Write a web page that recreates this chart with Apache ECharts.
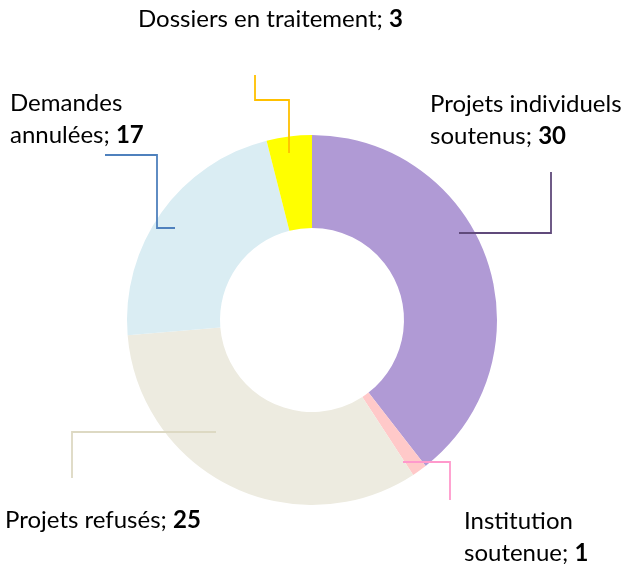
<!DOCTYPE html>
<html>
<head>
<meta charset="utf-8">
<script src="https://cdn.jsdelivr.net/npm/echarts@6/dist/echarts.min.js"></script>
<style>
  html, body { margin: 0; padding: 0; background: #fff; }
  #chart { width: 631px; height: 564px; }
</style>
</head>
<body>
<div id="chart"></div>
<script>
// data, clockwise from the top
var categories = ['Projets individuels\nsoutenus', 'Institution\nsoutenue', 'Projets refusés', 'Demandes\nannulées', 'Dossiers en traitement'];
var values = [30, 1, 25, 17, 3];
var sliceColors = ['#b09ad5', '#ffc9c9', '#edebe0', '#daedf3', '#ffff00'];
var lineColors = ['#604a7b', '#ff99cc', '#ddd9c3', '#4f81bd', '#ffc000'];

// label anchors (top-left) and leader line elbows, in px
var labelPos = [
    { x: 430, y: 88, line: [[459, 233], [551, 233], [551, 172]] },
    { x: 464, y: 505, line: [[403, 462], [450, 462], [450, 500]] },
    { x: 5, y: 504, line: [[216, 432], [72, 432], [72, 478]] },
    { x: 10, y: 87, line: [[175, 228], [157, 228], [157, 155], [105, 155]] },
    { x: 138, y: 3, line: [[289, 153], [289, 100], [255, 100], [255, 75]] }
];

var chart = echarts.init(document.getElementById('chart'));

// the pie's own guide lines sit under the sectors, so draw the elbows on top
var guides = labelPos.map(function (l, i) {
    return {
        type: 'polyline',
        z: 100,
        silent: true,
        shape: { points: l.line },
        style: { stroke: lineColors[i], lineWidth: 1.8, fill: null }
    };
});

chart.setOption({
    animation: false,
    graphic: { elements: guides },
    series: [{
        type: 'pie',
        radius: [92, 185],
        center: [312, 320],
        startAngle: 90,
        silent: true,
        avoidLabelOverlap: false,
        data: categories.map(function (name, i) {
            return {
                name: name,
                value: values[i],
                itemStyle: { color: sliceColors[i] }
            };
        }),
        label: {
            show: true,
            color: '#000',
            fontFamily: 'Lato',
            fontSize: 24,
            lineHeight: 32,
            formatter: function (p) {
                return p.name + '; {b|' + p.value + '}';
            },
            rich: {
                b: { fontWeight: 'bold', fontFamily: 'Lato', fontSize: 24, lineHeight: 32, color: '#000' }
            }
        },
        labelLine: { show: false },
        labelLayout: function (p) {
            var l = labelPos[p.dataIndex];
            return {
                x: l.x,
                y: l.y,
                align: 'left',
                verticalAlign: 'top'
            };
        }
    }]
});
</script>
</body>
</html>
